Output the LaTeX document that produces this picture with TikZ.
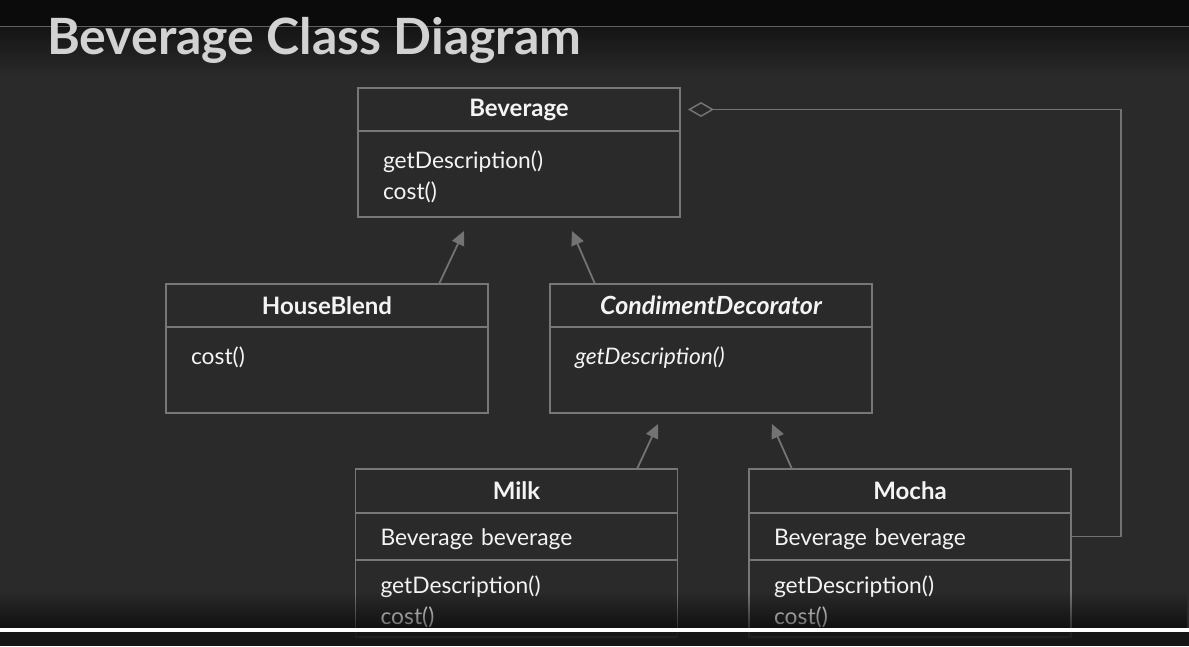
\documentclass[tikz,border=0pt]{standalone}
\usepackage{fontspec}
\setmainfont{Lato}
\usetikzlibrary{positioning,arrows.meta,fadings}
\definecolor{slidebg}{HTML}{2A2A2A}
\definecolor{slidetop}{HTML}{0B0B0B}
\definecolor{boxline}{HTML}{777777}
\definecolor{arrowgray}{HTML}{737373}
\definecolor{textwhite}{HTML}{F4F4F4}
\definecolor{titlegray}{HTML}{D2D2D2}

\begin{document}
\begin{tikzpicture}[x=1pt,y=-1pt]
    \tikzstyle{classname}=[draw=boxline, line width=1.3pt, outer sep=0pt, inner sep=0pt, minimum width=322pt, minimum height=43pt, text=textwhite, font=\fontsize{24}{28}\selectfont\bfseries]
    \tikzstyle{fieldpart}=[draw=boxline, line width=1.3pt, outer sep=0pt, inner xsep=25pt, inner ysep=0pt, text width=272pt, text height=32pt, text depth=15pt, align=left, text=textwhite, font=\fontsize{22.8}{31}\selectfont]
    \tikzstyle{methodpart}=[fieldpart, text height=37pt, text depth=49pt]
    \tikzstyle{inherit}=[draw=arrowgray, line width=1.8pt, -{Triangle[length=14pt,width=13pt]}]
    \tikzstyle{aggregate}=[draw=arrowgray, line width=1.5pt, -{Diamond[open,length=26pt,width=15pt]}, shorten >=8pt]

    \useasboundingbox (0,0) rectangle (1189,646);

    % slide background with the dark top band and the bottom bar
    \fill[slidebg] (0,0) rectangle (1189,646);
    \fill[slidetop] (0,0) rectangle (1189,26);
    \foreach \i in {0,...,24}
        \fill[slidebg!\the\numexpr 50+2*\i\relax!black] (0,27+2*\i) rectangle (1189,29.2+2*\i);
    \draw[gray!75!black, line width=1.2pt] (0,26.5) -- (1189,26.5);
    \node[anchor=base west, inner sep=0pt, text=titlegray, font=\fontsize{50}{54}\selectfont\bfseries] (title) at (47,54) {Beverage Class Diagram};

    % classes
    \node[classname] (bevname) at (519,109.5) {Beverage};
    \node[methodpart, below=0pt of bevname] (bevbody) {getDescription()\\cost()};

    \node[classname] (hbname) at (327,305.5) {HouseBlend};
    \node[methodpart, below=0pt of hbname] (hbbody) {cost()};

    \node[classname, font=\fontsize{25}{28}\selectfont\bfseries\itshape] (cdname) at (711,305.5) {CondimentDecorator};
    \node[methodpart, below=0pt of cdname, font=\fontsize{22.8}{31}\selectfont\itshape] (cdbody) {getDescription()};

    \node[classname, minimum height=44pt] (milkname) at (516.5,491) {Milk};
    \node[fieldpart, below=0pt of milkname] (milkfield) {Beverage beverage};
    \node[methodpart, below=0pt of milkfield, text height=33pt, text depth=44pt] (milkbody) {getDescription()\\cost()};

    \node[classname, minimum height=44pt] (mochaname) at (910,491) {Mocha};
    \node[fieldpart, below=0pt of mochaname] (mochafield) {Beverage beverage};
    \node[methodpart, below=0pt of mochafield, text height=33pt, text depth=44pt] (mochabody) {getDescription()\\cost()};

    % inheritance and aggregation
    \draw[inherit] ([xshift=112pt]hbname.north) -- ([shift={(-55,14)}]bevbody.south);
    \draw[inherit] ([xshift=-116pt]cdname.north) -- ([shift={(53,14)}]bevbody.south);
    \draw[inherit] ([xshift=120.5pt]milkname.north) -- ([shift={(-53,11)}]cdbody.south);
    \draw[inherit] ([xshift=-118pt]mochaname.north) -- ([shift={(61,11)}]cdbody.south);
    \draw[aggregate] (mochafield.east) -- ++(50,0) |- (bevname.east);

    % bottom bar over the lower boxes
    \fill[black, fill opacity=.6, path fading=north] (0,592) rectangle (1189,628);
    \fill[black!92!white, fill opacity=.88] (0,632) rectangle (1189,646);
    \fill[white] (0,628) rectangle (1189,632);
\end{tikzpicture}
\end{document}
